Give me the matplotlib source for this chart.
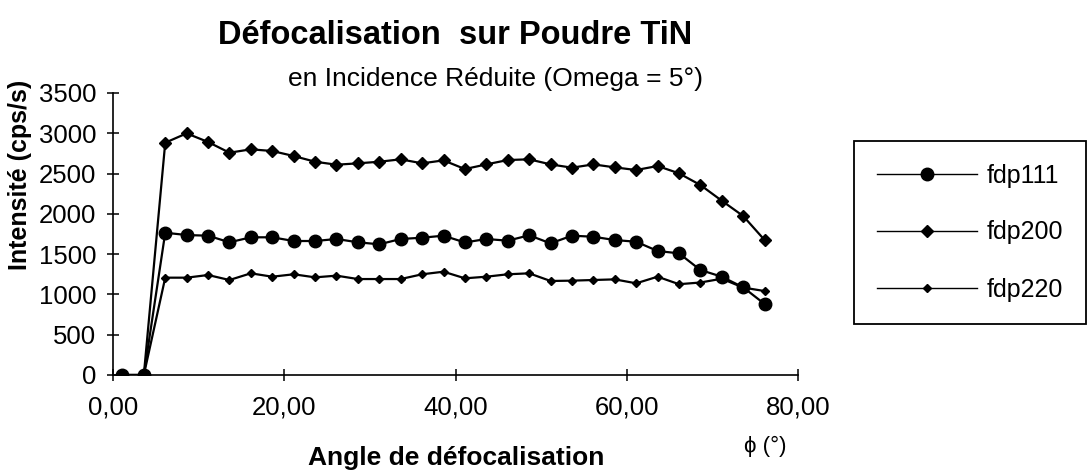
import matplotlib.pyplot as plt

plt.rcParams['font.family'] = ['Liberation Sans', 'DejaVu Sans']

# Angle de défocalisation (degrés)
angles = [1.1, 3.6, 6.1, 8.6, 11.1, 13.6, 16.1, 18.6, 21.1, 23.6, 26.1,
          28.6, 31.1, 33.6, 36.1, 38.6, 41.1, 43.6, 46.1, 48.6, 51.1,
          53.6, 56.1, 58.6, 61.1, 63.6, 66.1, 68.6, 71.1, 73.6, 76.1]

# Intensités mesurées (cps/s)
fdp111 = [0, 0, 1766, 1737, 1729, 1647, 1709, 1709, 1663, 1663, 1688,
          1647, 1622, 1688, 1704, 1729, 1645, 1688, 1667, 1734, 1634,
          1729, 1716, 1675, 1654, 1539, 1510, 1303, 1220, 1088, 881]
fdp200 = [0, 0, 2883, 2999, 2892, 2759, 2801, 2780, 2718, 2647, 2610,
          2627, 2647, 2677, 2627, 2664, 2556, 2614, 2668, 2677, 2614,
          2573, 2614, 2577, 2544, 2594, 2503, 2358, 2163, 1973, 1675]
fdp220 = [0, 0, 1208, 1208, 1241, 1179, 1262, 1220, 1250, 1212, 1233,
          1191, 1191, 1191, 1250, 1282, 1200, 1220, 1250, 1262, 1167,
          1171, 1179, 1187, 1138, 1220, 1127, 1148, 1195, 1085, 1042]

xticks = [0, 20, 40, 60, 80]
xticklabels = ["0,00", "20,00", "40,00", "60,00", "80,00"]
yticks = [0, 500, 1000, 1500, 2000, 2500, 3000, 3500]

W, H = 1092, 470
fig = plt.figure(figsize=(W / 100, H / 100), dpi=100)
ax = fig.add_axes([113 / W, 1 - 375 / H, (798 - 113) / W, (375 - 93) / H])

ax.plot(angles, fdp111, color="k", lw=1.6, marker="o", ms=9, label="fdp111")
ax.plot(angles, fdp200, color="k", lw=1.6, marker="D", ms=6.5, label="fdp200")
ax.plot(angles, fdp220, color="k", lw=1.6, marker="D", ms=4.5, label="fdp220")

ax.set_xlim(0, 80)
ax.set_ylim(0, 3500)
ax.set_xticks(xticks)
ax.set_xticklabels(xticklabels)
ax.set_yticks(yticks)
for side in ["top", "right"]:
    ax.spines[side].set_visible(False)
for side in ["left", "bottom"]:
    ax.spines[side].set_linewidth(1.2)
ax.tick_params(axis="both", direction="inout", length=8, width=1.1,
               labelsize=18.5)
ax.tick_params(axis="x", pad=11)
ax.tick_params(axis="y", pad=8)

# titres
fig.text(455 / W, 1 - 35 / H, "Défocalisation  sur Poudre TiN",
         ha="center", va="center", fontsize=23.5, fontweight="bold")
fig.text(495 / W, 1 - 79 / H, "en Incidence Réduite (Omega = 5°)",
         ha="center", va="center", fontsize=19)
fig.text(456 / W, 1 - 465 / H, "Angle de défocalisation",
         ha="center", va="baseline", fontsize=19, fontweight="bold")
fig.text(765 / W, 1 - 446 / H, "ϕ (°)", ha="center", va="center",
         fontsize=16)
fig.text(20 / W, 1 - 175 / H, "Intensité (cps/s)", rotation=90,
         ha="center", va="center", fontsize=18, fontweight="bold")

leg = ax.legend(loc="upper left", bbox_to_anchor=(854 / W, 1 - 141 / H),
                bbox_transform=fig.transFigure, borderaxespad=0,
                fontsize=18, handlelength=4.0, handletextpad=0.4,
                labelspacing=1.32, borderpad=0.9, fancybox=False,
                framealpha=1, edgecolor="k")
leg.get_frame().set_linewidth(1.3)
for h in leg.legend_handles:
    h.set_linewidth(1.0)

fig.savefig("out.png", dpi=100)
